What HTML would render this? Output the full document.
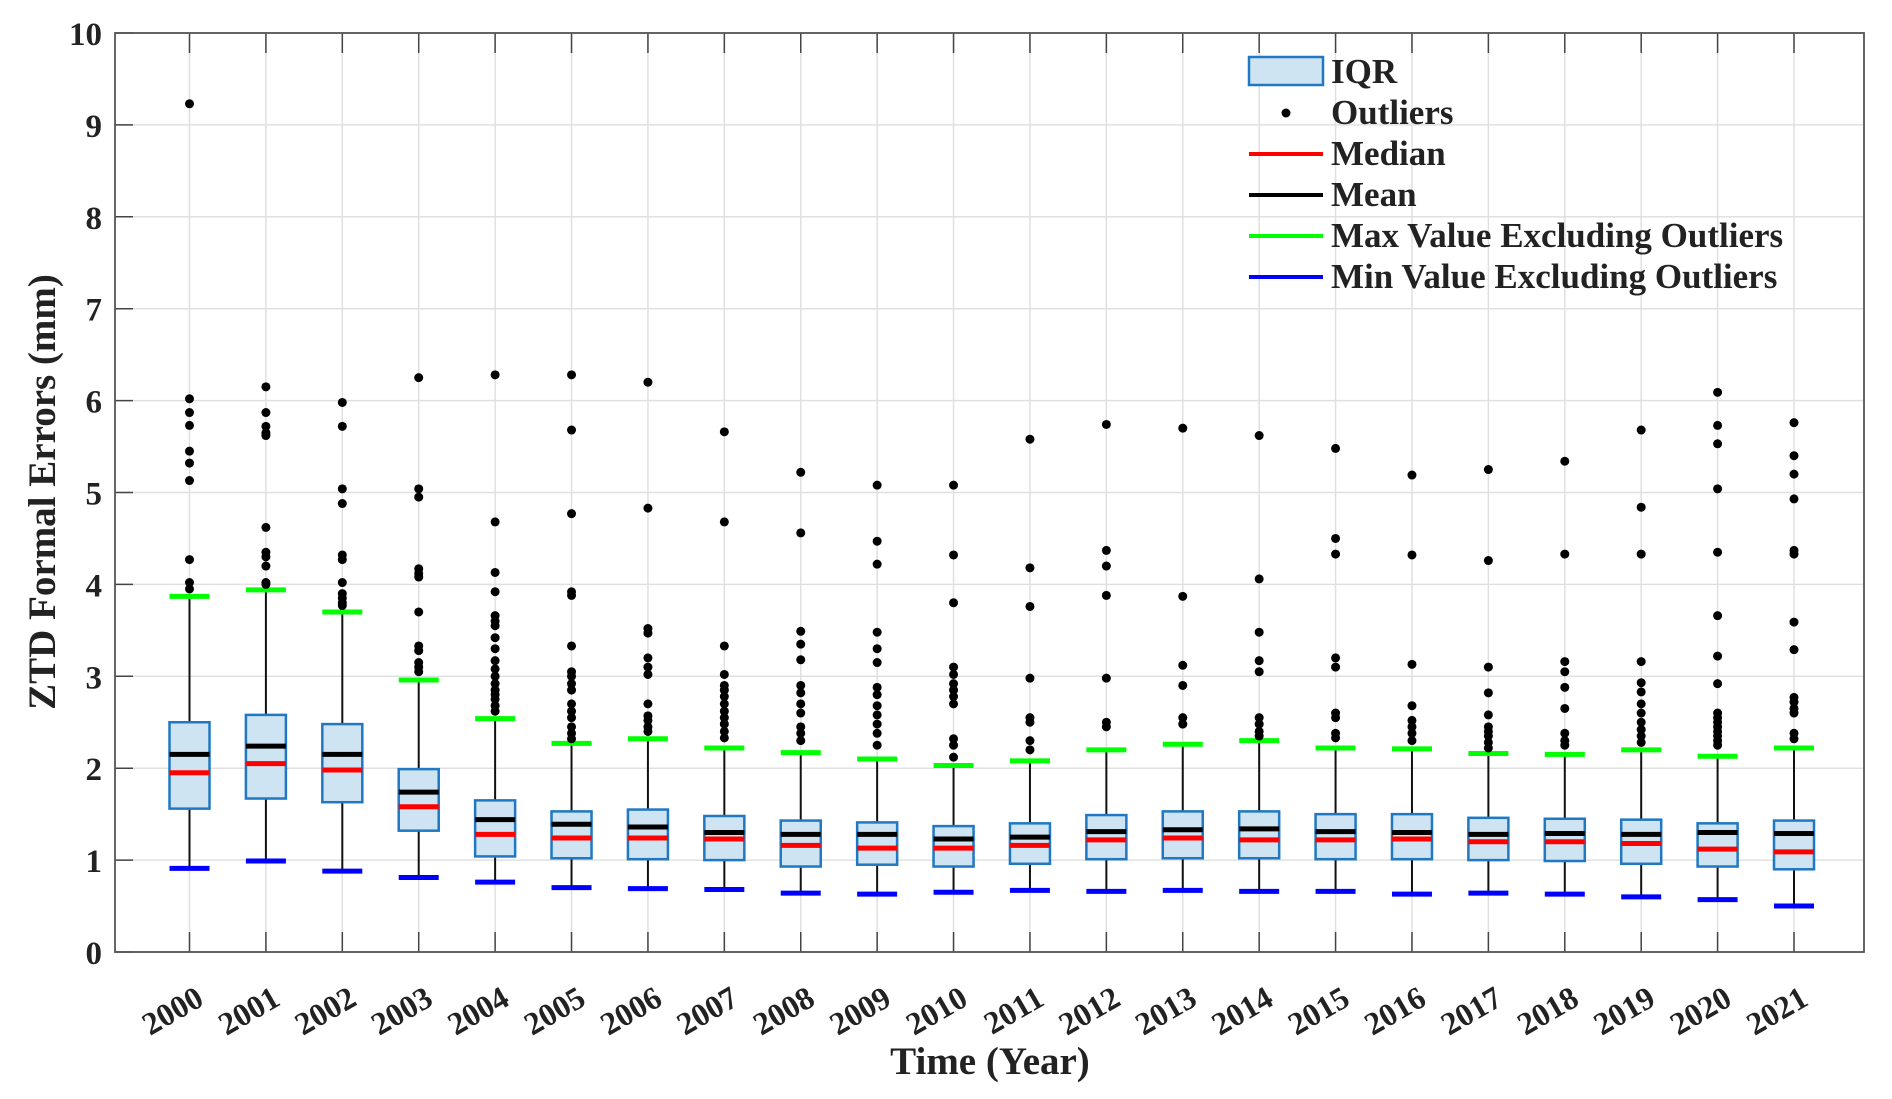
<!DOCTYPE html>
<html><head><meta charset="utf-8"><style>
body{margin:0;background:#fff}
svg{display:block}
text{font-family:"Liberation Serif",serif;font-weight:bold;fill:#222}
</style></head><body>
<svg id="chart" width="1892" height="1099" viewBox="0 0 1892 1099" xmlns="http://www.w3.org/2000/svg">
<g id="grid"></g>
<g id="boxes"></g>
<g id="axes"></g>
<text x="0" y="0" font-size="39" text-anchor="middle" transform="translate(55,492) rotate(-90)">ZTD Formal Errors (mm)</text>
<text x="990" y="1074" font-size="39" text-anchor="middle">Time (Year)</text>
<g id="legend">
  <g><rect x="1249" y="57" width="74" height="28" fill="#cfe4f2" stroke="#1f78c1" stroke-width="2.5"/><text x="1331" y="83" font-size="35">IQR</text></g>
  <g><circle cx="1286" cy="113" r="4.5" fill="#000"/><text x="1331" y="124" font-size="35">Outliers</text></g>
  <g><line x1="1249" y1="154" x2="1323" y2="154" stroke="#f00" stroke-width="4"/><text x="1331" y="165" font-size="35">Median</text></g>
  <g><line x1="1249" y1="195" x2="1323" y2="195" stroke="#000" stroke-width="4"/><text x="1331" y="206" font-size="35">Mean</text></g>
  <g><line x1="1249" y1="236" x2="1323" y2="236" stroke="#0f0" stroke-width="4"/><text x="1331" y="247" font-size="35">Max Value Excluding Outliers</text></g>
  <g><line x1="1249" y1="277" x2="1323" y2="277" stroke="#00f" stroke-width="4"/><text x="1331" y="288" font-size="35">Min Value Excluding Outliers</text></g>
</g>
</svg>
<script>
const years=["2000","2001","2002","2003","2004","2005","2006","2007","2008","2009","2010","2011","2012","2013","2014","2015","2016","2017","2018","2019","2020","2021"];
const q3=[2.5,2.58,2.48,1.99,1.65,1.53,1.55,1.48,1.43,1.41,1.37,1.4,1.49,1.53,1.53,1.5,1.5,1.46,1.45,1.44,1.4,1.43];
const q1=[1.56,1.67,1.63,1.32,1.04,1.02,1.01,1.0,0.93,0.95,0.93,0.96,1.01,1.02,1.02,1.01,1.01,1.0,0.99,0.96,0.93,0.9];
const medians=[1.95,2.05,1.98,1.58,1.28,1.24,1.24,1.23,1.16,1.13,1.13,1.16,1.22,1.24,1.22,1.22,1.23,1.2,1.2,1.18,1.12,1.09];
const means=[2.15,2.24,2.15,1.74,1.44,1.39,1.36,1.3,1.28,1.28,1.23,1.25,1.31,1.33,1.34,1.31,1.3,1.28,1.29,1.28,1.3,1.29];
const maxVals=[3.87,3.94,3.7,2.96,2.54,2.27,2.32,2.22,2.17,2.1,2.03,2.08,2.2,2.26,2.3,2.22,2.21,2.16,2.15,2.2,2.13,2.22];
const minVals=[0.91,0.99,0.88,0.81,0.76,0.7,0.69,0.68,0.64,0.63,0.65,0.67,0.66,0.67,0.66,0.66,0.63,0.64,0.63,0.6,0.57,0.5];
const outliers=[
[9.23,6.02,5.87,5.73,5.45,5.32,5.13,4.27,4.02,3.95],
[6.15,5.87,5.72,5.65,5.62,4.62,4.35,4.3,4.2,4.02,4.0],
[5.98,5.72,5.04,4.88,4.32,4.27,4.02,3.9,3.85,3.8,3.77],
[6.25,5.04,4.95,4.17,4.12,4.08,3.7,3.33,3.28,3.15,3.1,3.05],
[6.28,4.68,4.13,3.92,3.66,3.6,3.55,3.42,3.3,3.17,3.08,3.0,2.92,2.85,2.8,2.75,2.68,2.62],
[6.28,5.68,4.77,3.92,3.88,3.33,3.05,3.0,2.92,2.85,2.7,2.62,2.55,2.45,2.38,2.32],
[6.2,4.83,3.52,3.47,3.2,3.1,3.02,2.7,2.57,2.52,2.45,2.4],
[5.66,4.68,3.33,3.02,2.9,2.85,2.78,2.7,2.62,2.55,2.48,2.4,2.33],
[5.22,4.56,3.49,3.35,3.18,2.9,2.82,2.7,2.6,2.45,2.38,2.3],
[5.08,4.47,4.22,3.48,3.3,3.15,2.88,2.8,2.68,2.58,2.48,2.38,2.25],
[5.08,4.32,3.8,3.1,3.02,2.92,2.85,2.78,2.7,2.32,2.25,2.12],
[5.58,4.18,3.76,2.98,2.55,2.5,2.3,2.2],
[5.74,4.37,4.2,3.88,2.98,2.5,2.45],
[5.7,3.87,3.12,2.9,2.55,2.48],
[5.62,4.06,3.48,3.17,3.05,2.55,2.48,2.4,2.35],
[5.48,4.5,4.33,3.2,3.1,2.6,2.55,2.38,2.33],
[5.19,4.32,3.13,2.68,2.52,2.45,2.38,2.3],
[5.25,4.26,3.1,2.82,2.58,2.45,2.4,2.35,2.28,2.22],
[5.34,4.33,3.16,3.05,2.88,2.65,2.38,2.3,2.25],
[5.68,4.84,4.33,3.16,2.93,2.83,2.7,2.6,2.5,2.42,2.35,2.28],
[6.09,5.73,5.53,5.04,4.35,3.66,3.22,2.92,2.6,2.55,2.5,2.45,2.4,2.35,2.3,2.25],
[5.76,5.4,5.2,4.93,4.37,4.33,3.59,3.29,2.77,2.72,2.65,2.6,2.38,2.32]];
const yTicks=["0","1","2","3","4","5","6","7","8","9","10"];

const L=115,R=1864,T=33,B=952;
const x0=189.5,step=(1794-189.5)/21;
function X(i){return x0+i*step;}
function Y(v){return B-(v/10)*(B-T);}
const NS="http://www.w3.org/2000/svg";
function mk(p,tag,a){const e=document.createElementNS(NS,tag);for(const k in a)e.setAttribute(k,a[k]);p.appendChild(e);return e;}
const grid=document.getElementById('grid'),axes=document.getElementById('axes'),boxes=document.getElementById('boxes');
yTicks.forEach((t,i)=>{const y=Y(+t);
  const g=mk(grid,'line',{x1:L,x2:R,y1:y,y2:y,stroke:'#e0e0e0','stroke-width':1.5});
  
  
  const tk=mk(axes,'line',{x1:L,x2:L+18,y1:y,y2:y,stroke:'#444','stroke-width':1.5});
  
  
  const tx=mk(axes,'text',{x:L-13,y:y+12,'font-size':33,'text-anchor':'end'});tx.textContent=t;
  
  
});
years.forEach((yr,i)=>{const x=X(i);
  const g=mk(grid,'line',{x1:x,x2:x,y1:T,y2:B,stroke:'#e0e0e0','stroke-width':1.5});
  
  
  [[B,B-20],[T,T+20]].forEach(([a,b])=>{const tk=mk(axes,'line',{x1:x,x2:x,y1:a,y2:b,stroke:'#444','stroke-width':1.5});
    
    });
  const tx=mk(axes,'text',{x:0,y:0,'font-size':32,'text-anchor':'end',transform:`translate(${x+16},${B+52}) rotate(-30)`});tx.textContent=yr;
  
  
});
const fr=mk(axes,'rect',{x:L,y:T,width:R-L,height:B-T,fill:'none',stroke:'#555','stroke-width':1.8});


const hw=20;
years.forEach((yr,i)=>{const x=X(i);
  const g=mk(boxes,'g',{});
  
  
  mk(g,'line',{x1:x,x2:x,y1:Y(maxVals[i]),y2:Y(q3[i]),stroke:'#111','stroke-width':2});
  mk(g,'line',{x1:x,x2:x,y1:Y(q1[i]),y2:Y(minVals[i]),stroke:'#111','stroke-width':2});
  mk(g,'rect',{x:x-hw,y:Y(q3[i]),width:2*hw,height:Y(q1[i])-Y(q3[i]),fill:'#cfe4f2',stroke:'#1f78c1','stroke-width':2.5});
  mk(g,'line',{x1:x-hw,x2:x+hw,y1:Y(medians[i]),y2:Y(medians[i]),stroke:'#f00','stroke-width':5});
  mk(g,'line',{x1:x-hw,x2:x+hw,y1:Y(means[i]),y2:Y(means[i]),stroke:'#000','stroke-width':5});
  mk(g,'line',{x1:x-hw,x2:x+hw,y1:Y(maxVals[i]),y2:Y(maxVals[i]),stroke:'#0f0','stroke-width':5});
  mk(g,'line',{x1:x-hw,x2:x+hw,y1:Y(minVals[i]),y2:Y(minVals[i]),stroke:'#00f','stroke-width':5});
  outliers[i].forEach(v=>{const c=mk(g,'circle',{cx:x,cy:Y(v),r:4.5,fill:'#000'});
    
    });
});
</script>
</body></html>
